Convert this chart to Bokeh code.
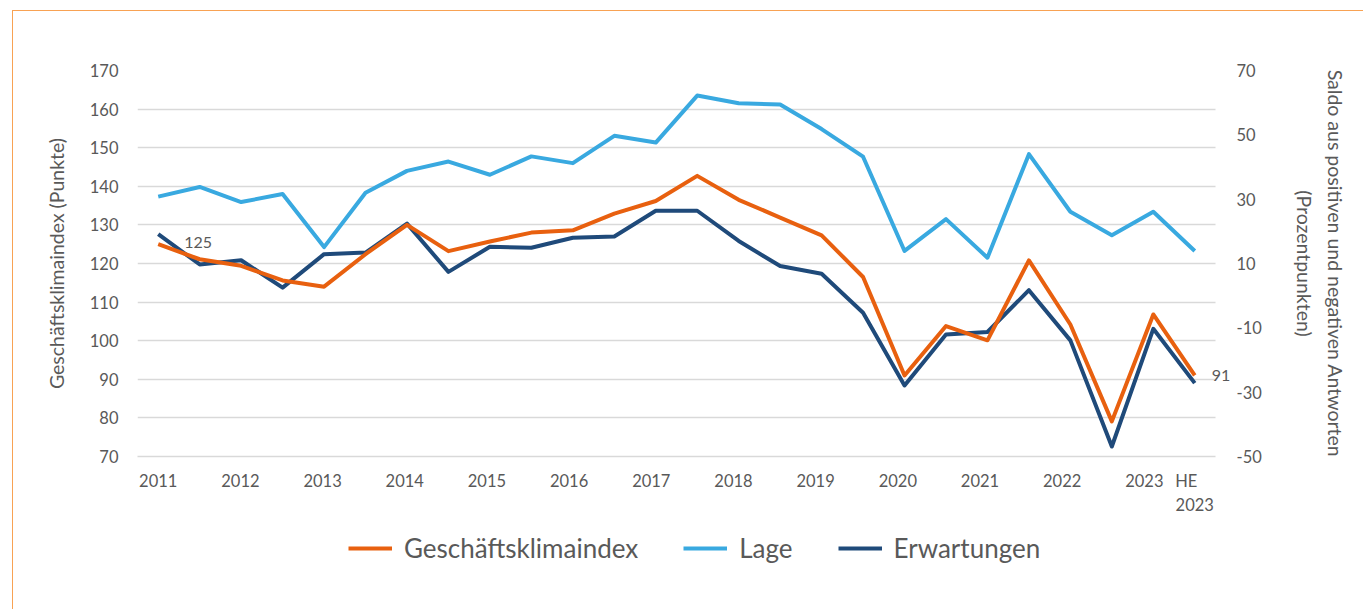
from bokeh.plotting import figure
from bokeh.layouts import column
from bokeh.models import (Range1d, LinearAxis, FixedTicker, Legend, LegendItem,
                          ColumnDataSource)
from bokeh.embed import file_html
from bokeh.resources import INLINE
from bokeh.core.properties import value

# ---------------- data ----------------
tick_labels = ["2011", "", "2012", "", "2013", "", "2014", "", "2015", "", "2016", "",
               "2017", "", "2018", "", "2019", "", "2020", "", "2021", "", "2022", "",
               "2023", "HE    \n2023"]
geschaeftsklima = [125.0, 121.1, 119.4, 115.6, 114.0, 122.4, 130.0, 123.2, 125.7, 128.0,
                   128.6, 132.9, 136.2, 142.7, 136.5, 131.9, 127.3, 116.5, 91.0, 103.8,
                   100.1, 120.8, 104.2, 79.1, 106.8, 91.0]
lage = [30.8, 33.8, 29.1, 31.6, 15.1, 32.0, 38.8, 41.7, 37.6, 43.3,
        41.2, 49.7, 47.6, 62.2, 59.8, 59.4, 51.8, 43.2, 13.9, 23.8,
        11.8, 44.0, 26.1, 18.8, 26.1, 13.9]
erwartungen = [19.1, 9.7, 11.0, 2.5, 12.9, 13.4, 22.4, 7.4, 15.2, 14.9,
               18.0, 18.4, 26.4, 26.4, 17.0, 9.2, 6.8, -5.3, -27.9, -12.1,
               -11.3, 1.7, -13.9, -46.9, -10.3, -27.2]
left_ticks = [70, 80, 90, 100, 110, 120, 130, 140, 150, 160, 170]
right_ticks = [-50, -30, -10, 10, 30, 50, 70]
series_names = ["Geschäftsklimaindex", "Lage", "Erwartungen"]

idx = list(range(len(tick_labels)))
n = len(idx)

FONT = "Lato"
TXT = "#595959"
ORANGE = "#E8600F"
LIGHT = "#39A9E0"
NAVY = "#1F4A7A"
GRID = "#D9D9D9"
FRAME = "#F8A253"

# year labels sit a little left of their data point (as in the original)
DRIFT = 0.009
label_pos = {}
for i, t in enumerate(tick_labels):
    if t:
        pos = float(i) if i == n - 1 else round(i * (1 - DRIFT), 4)
        label_pos[pos] = t

W = 1350
p = figure(width=W, height=513, output_backend="svg", toolbar_location=None,
           x_range=Range1d(-0.5, n - 0.5 + 0.362), y_range=Range1d(70, 170),
           min_border_left=124, min_border_right=133, min_border_top=59, min_border_bottom=68)
p.outline_line_color = None
p.background_fill_color = "white"
p.border_fill_color = "white"
p.extra_y_ranges = {"saldo": Range1d(-50, 70)}

# grid
p.xgrid.grid_line_color = None
p.ygrid.grid_line_color = GRID
p.ygrid.grid_line_width = 1.3
p.ygrid.ticker = FixedTicker(ticks=left_ticks)
try:
    p.ygrid.cross_bounds = (-0.5, n - 0.5)
except Exception:
    pass

# left axis
ya = p.yaxis[0]
ya.ticker = FixedTicker(ticks=left_ticks)
ya.axis_line_color = None
ya.major_tick_line_color = None
ya.minor_tick_line_color = None
ya.major_label_standoff = 13
ya.major_label_text_font = FONT
ya.major_label_text_font_size = "16.5px"
ya.major_label_text_color = TXT
ya.axis_label = "Geschäftsklimaindex (Punkte)"
ya.axis_label_text_font = FONT
ya.axis_label_text_font_size = "19.5px"
ya.axis_label_text_font_style = "normal"
ya.axis_label_text_color = TXT
ya.axis_label_standoff = 19

# right axis
ra = LinearAxis(y_range_name="saldo", ticker=FixedTicker(ticks=right_ticks))
ra.major_label_overrides = {t: str(t) for t in right_ticks}
ra.axis_line_color = None
ra.major_tick_line_color = None
ra.minor_tick_line_color = None
ra.major_label_standoff = 0
ra.major_label_text_font = FONT
ra.major_label_text_font_size = "16.5px"
ra.major_label_text_color = TXT
ra.axis_label = "Saldo aus positiven und negativen Antworten\n(Prozentpunkten)"
ra.axis_label_text_font = FONT
ra.axis_label_text_font_size = "19.5px"
ra.axis_label_text_font_style = "normal"
ra.axis_label_text_color = TXT
ra.axis_label_text_line_height = 1.35
ra.axis_label_standoff = 28
p.add_layout(ra, "right")

# x axis
xa = p.xaxis[0]
xa.ticker = FixedTicker(ticks=list(label_pos.keys()))
xa.major_label_overrides = label_pos
xa.bounds = (-0.5, n - 0.5)
xa.axis_line_color = GRID
xa.axis_line_width = 1.3
xa.major_tick_line_color = None
xa.minor_tick_line_color = None
xa.major_label_standoff = 8
xa.major_label_text_font = FONT
xa.major_label_text_font_size = "16.5px"
xa.major_label_text_color = TXT

# lines
src = ColumnDataSource(dict(x=idx, gki=geschaeftsklima, lage=lage, erw=erwartungen))
p.line("x", "lage", source=src, color=LIGHT, line_width=4, line_join="round",
       y_range_name="saldo")
p.line("x", "erw", source=src, color=NAVY, line_width=4, line_join="round",
       y_range_name="saldo")
p.line("x", "gki", source=src, color=ORANGE, line_width=4, line_join="round")

# data labels (first and last value of the index)
lab_src = ColumnDataSource(dict(
    x=[idx[0], idx[-1]],
    y=[geschaeftsklima[0], geschaeftsklima[-1]],
    t=[f"{round(geschaeftsklima[0])}", f"{round(geschaeftsklima[-1])}"],
    xo=[26, 17],
    yo=[-2, 0],
))
p.text("x", "y", text="t", source=lab_src, x_offset="xo", y_offset="yo",
       text_font=value(FONT), text_font_size="16px", text_color=TXT,
       text_align="left", text_baseline="middle")

# ---------------- legend strip ----------------
pl = figure(width=W, height=85, output_backend="svg", toolbar_location=None,
            x_axis_location=None, y_axis_location=None,
            x_range=Range1d(0, 1), y_range=Range1d(0, 1),
            min_border_left=0, min_border_right=0, min_border_top=0, min_border_bottom=0)
pl.outline_line_color = None
pl.grid.visible = False
pl.background_fill_color = "white"
pl.border_fill_color = "white"
# legend key renderers (kept outside the visible range of this strip)
lg_g = pl.line([-2, -1], [-2, -1], color=ORANGE, line_width=4)
lg_l = pl.line([-2, -1], [-2, -1], color=LIGHT, line_width=4)
lg_e = pl.line([-2, -1], [-2, -1], color=NAVY, line_width=4)
legend = Legend(items=[LegendItem(label=series_names[0], renderers=[lg_g]),
                       LegendItem(label=series_names[1], renderers=[lg_l]),
                       LegendItem(label=series_names[2], renderers=[lg_e])],
                orientation="horizontal", location=(211, 45),
                glyph_width=44, glyph_height=26, label_standoff=12, spacing=45,
                label_height=26, padding=0, margin=0,
                label_text_font=FONT, label_text_font_size="26px", label_text_color=TXT,
                border_line_color=None, background_fill_alpha=0)
pl.add_layout(legend, "center")

layout = column(p, pl, spacing=0)
layout.margin = (10, 0, 0, 12)
layout.styles = {"border-left": f"1px solid {FRAME}", "border-top": f"1px solid {FRAME}"}

open("out.html", "w").write(file_html(layout, INLINE))
